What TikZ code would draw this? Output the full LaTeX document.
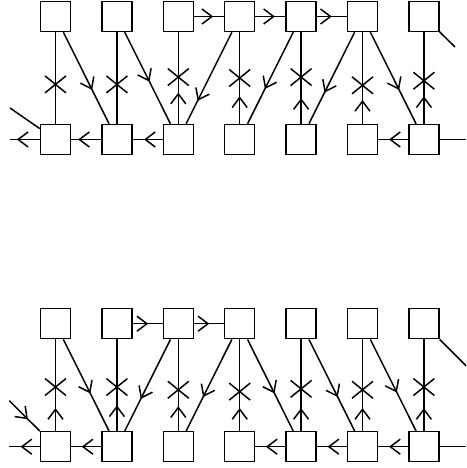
\documentclass[tikz,border=0pt]{standalone}
\usetikzlibrary{arrows.meta,decorations.markings}

\tikzset{
  cell/.style={draw, minimum size=0.6cm, inner sep=0pt},
  flow/.style={postaction={decorate, decoration={markings,
      mark=at position #1 with {\arrow{Straight Barb[length=2mm, width=3mm]}}}}},
  xcut/.style={postaction={decorate, decoration={markings,
      mark=at position #1 with {\draw (-0.17,-0.21) -- (0.17,0.21) (-0.17,0.21) -- (0.17,-0.21);}}}},
}

\begin{document}
\begin{tikzpicture}[line width=0.85pt]
  \def\dx{1.228} % column pitch
  \def\dy{2.46}  % row gap
  \useasboundingbox (0,0) rectangle (9.32,9.36);

  % cells: lattice a (upper), lattice b (lower)
  \foreach \g/\oy in {a/6.57, b/0.426} {
    \foreach \i in {1,...,7} {
      \pgfmathsetmacro{\cx}{1.11+(\i-1)*\dx}
      \node[cell] (t\g\i) at (\cx, \oy+\dy) {};
      \node[cell] (b\g\i) at (\cx, \oy) {};
    }
  }

  % lattice a -- vertical bonds
  \foreach \i/\p in {1/0.43, 2/0.43}
    \draw[xcut=\p] (ba\i) -- (ta\i);
  \foreach \i/\p/\q in {3/0.51/0.34, 4/0.5/0.3, 5/0.51/0.28, 6/0.42/0.26, 7/0.47/0.3}
    \draw[xcut=\p, flow=\q] (ba\i) -- (ta\i);

  % lattice a -- diagonal and horizontal bonds
  \draw[flow=0.63] (ta1) -- (ba2);
  \draw[flow=0.54] (ta2) -- (ba3);
  \draw[flow=0.75] (ta4) -- (ba3);
  \draw[flow=0.62] (ta5) -- (ba4);
  \draw[flow=0.66] (ta6) -- (ba5);
  \draw[flow=0.63] (ta6) -- (ba7);
  \draw[flow=0.64] (ta3) -- (ta4);
  \draw[flow=0.65] (ta4) -- (ta5);
  \draw[flow=0.5] (ta5) -- (ta6);
  \draw[flow=0.77] (ba2) -- (ba1);
  \draw[flow=0.62] (ba3) -- (ba2);
  \draw[flow=0.64] (ba7) -- (ba6);

  % lattice a -- open ends
  \coordinate (ea) at (9.10,8.42);
  \coordinate (wa) at (0.2,7.2);
  \coordinate (la) at (0.2,6.57);
  \coordinate (ra) at (9.32,6.57);
  \draw (ta7) -- (ea);
  \draw (wa) -- (ba1);
  \draw[flow=0.77] (ba1) -- (la);
  \draw (ba7) -- (ra);

  % lattice b -- vertical bonds
  \foreach \i/\p/\q in {1/0.48/0.25, 2/0.48/0.28, 3/0.45/0.27, 4/0.43/0.25,
                        5/0.46/0.25, 6/0.45/0.25, 7/0.48/0.25}
    \draw[xcut=\p, flow=\q] (bb\i) -- (tb\i);

  % lattice b -- diagonal and horizontal bonds
  \draw[flow=0.59] (tb1) -- (bb2);
  \draw[flow=0.65] (tb3) -- (bb2);
  \draw[flow=0.63] (tb4) -- (bb3);
  \draw[flow=0.59] (tb4) -- (bb5);
  \draw[flow=0.63] (tb5) -- (bb6);
  \draw[flow=0.58] (tb6) -- (bb7);
  \draw[flow=0.52] (tb2) -- (tb3);
  \draw[flow=0.51] (tb3) -- (tb4);
  \draw[flow=0.65] (bb2) -- (bb1);
  \draw[flow=0.65] (bb5) -- (bb4);
  \draw[flow=0.64] (bb6) -- (bb5);
  \draw[flow=0.64] (bb7) -- (bb6);

  % lattice b -- open ends
  \coordinate (eb) at (9.32,2.044);
  \coordinate (wb) at (0.186,1.346);
  \coordinate (lb) at (0.186,0.426);
  \coordinate (rb) at (9.32,0.426);
  \draw (tb7) -- (eb);
  \draw[flow=0.61] (wb) -- (bb1);
  \draw[flow=0.63] (bb1) -- (lb);
  \draw (bb7) -- (rb);
\end{tikzpicture}
\end{document}
